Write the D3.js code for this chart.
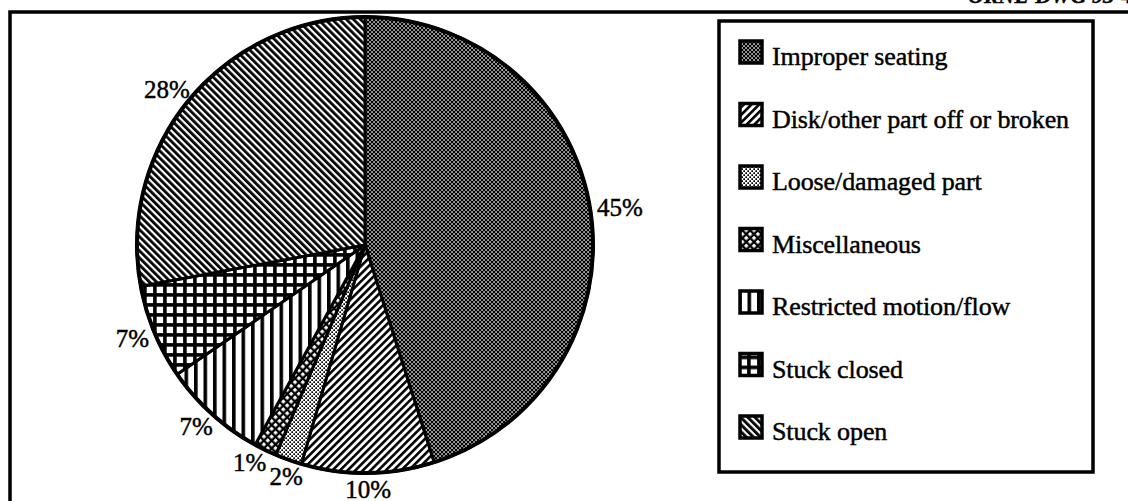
<!DOCTYPE html>
<html>
<head>
<meta charset="utf-8">
<script src="https://cdn.jsdelivr.net/npm/d3@7"></script>
<style>
  body { margin: 0; background: #fff; }
  svg { display: block; }
  text { font-family: "Liberation Serif", "Times New Roman", serif; fill: #000; stroke: #000; stroke-width: 0.45px; }
</style>
</head>
<body>
<div id="chart"></div>
<script>
// Failure causes (share of events, %)
var categories = [
  'Improper seating',
  'Disk/other part off or broken',
  'Loose/damaged part',
  'Miscellaneous',
  'Restricted motion/flow',
  'Stuck closed',
  'Stuck open'
];
var shares = [45.1, 9.4, 1.9, 1.6, 7.4, 6.7, 27.9];
var shareLabels = ['45%', '10%', '2%', '1%', '7%', '7%', '28%'];
var patternIds = ['pSeat', 'pDisk', 'pLoose', 'pMisc', 'pRestr', 'pClosed', 'pOpen'];

var svgWidth = 1128;
var svgHeight = 501;

var svg = d3.select('#chart')
  .append('svg')
  .attr('width', svgWidth)
  .attr('height', svgHeight);

// ---- hatch patterns
var defs = svg.append('defs');

function tile(id, size, transform) {
  var p = defs.append('pattern')
    .attr('id', id)
    .attr('patternUnits', 'userSpaceOnUse')
    .attr('width', size)
    .attr('height', size);
  if (transform) p.attr('patternTransform', transform);
  return p;
}

// dark stipple
var p = tile('pSeat', 4);
p.append('rect').attr('width', 4).attr('height', 4).attr('fill', '#000');
p.append('rect').attr('x', 0.3).attr('y', 0.3).attr('width', 1.5).attr('height', 1.5).attr('fill', '#fff');
p.append('rect').attr('x', 2.3).attr('y', 2.3).attr('width', 1.5).attr('height', 1.5).attr('fill', '#fff');

// "/" lines
p = tile('pDisk', 5.4, 'rotate(45)');
p.append('rect').attr('width', 5.4).attr('height', 5.4).attr('fill', '#fff');
p.append('rect').attr('width', 2.6).attr('height', 5.4).attr('fill', '#000');

// light stipple
p = tile('pLoose', 4);
p.append('rect').attr('width', 4).attr('height', 4).attr('fill', '#fff');
p.append('rect').attr('x', 0.3).attr('y', 0.3).attr('width', 1.7).attr('height', 1.7).attr('fill', '#000');
p.append('rect').attr('x', 2.3).attr('y', 2.3).attr('width', 1.7).attr('height', 1.7).attr('fill', '#000');

// diagonal crosshatch
p = tile('pMisc', 5.5, 'rotate(45)');
p.append('rect').attr('width', 5.5).attr('height', 5.5).attr('fill', '#000');
p.append('rect').attr('x', 1.9).attr('y', 1.9).attr('width', 3.2).attr('height', 3.2).attr('fill', '#fff');

// vertical lines
p = tile('pRestr', 9.5);
p.append('rect').attr('width', 9.5).attr('height', 9.5).attr('fill', '#fff');
p.append('rect').attr('width', 3.6).attr('height', 9.5).attr('fill', '#000');

// square grid
p = tile('pClosed', 10);
p.append('rect').attr('width', 10).attr('height', 10).attr('fill', '#000');
p.append('rect').attr('x', 1.7).attr('y', 1.7).attr('width', 6.4).attr('height', 6.4).attr('fill', '#fff');

// "\" lines
p = tile('pOpen', 5, 'rotate(-45)');
p.append('rect').attr('width', 5).attr('height', 5).attr('fill', '#fff');
p.append('rect').attr('width', 2.8).attr('height', 5).attr('fill', '#000');

// ---- outer frame and drawing number
svg.append('text')
  .attr('x', 968)
  .attr('y', 3)
  .style('font-size', '22px')
  .style('font-style', 'italic')
  .style('font-weight', 'bold')
  .text('ORNL-DWG 93-4229');

svg.append('path')
  .attr('d', 'M10,' + svgHeight + 'V12H' + svgWidth)
  .attr('fill', 'none')
  .attr('stroke', '#000')
  .attr('stroke-width', 3.5);

// ---- pie
var cx = 365, cy = 245, radius = 228;

var pie = d3.pie().sort(null).value(function (d) { return d; });
var arcs = pie(shares);

var arc = d3.arc().innerRadius(0).outerRadius(radius);

var pieGroup = svg.append('g')
  .attr('transform', 'translate(' + cx + ',' + cy + ')');

pieGroup.selectAll('path.slice')
  .data(arcs)
  .enter()
  .append('path')
  .attr('class', 'slice')
  .attr('d', arc)
  .attr('fill', function (d, i) { return 'url(#' + patternIds[i] + ')'; })
  .attr('stroke', '#000')
  .attr('stroke-width', 3)
  .attr('stroke-linejoin', 'round');

pieGroup.append('circle')
  .attr('r', radius)
  .attr('fill', 'none')
  .attr('stroke', '#000')
  .attr('stroke-width', 4);

// label angles: slice mid-angles, spread apart where they crowd
var labelAngles = arcs.map(function (d) { return (d.startAngle + d.endAngle) / 2; });
var minGap = 9 * Math.PI / 180;
for (var k = 0; k < 20; k++) {
  for (var i = 0; i < labelAngles.length - 1; i++) {
    var gap = labelAngles[i + 1] - labelAngles[i];
    if (gap < minGap) {
      var push = (minGap - gap) / 2;
      labelAngles[i] -= push;
      labelAngles[i + 1] += push;
    }
  }
}

var labelR = radius + 7;
var fontPx = 25;

var pct = pieGroup.selectAll('text.pct')
  .data(arcs)
  .enter()
  .append('text')
  .attr('class', 'pct')
  .attr('text-anchor', 'middle')
  .attr('dy', '0.35em')
  .style('font-size', fontPx + 'px')
  .text(function (d, i) { return shareLabels[i]; });

// push each label box outwards so its near edge sits just off the rim
pct.attr('transform', function (d, i) {
  var a = labelAngles[i];
  var w = this.getComputedTextLength();
  var h = fontPx * 0.72;
  var x = labelR * Math.sin(a) + Math.sin(a) * w / 2;
  var y = -labelR * Math.cos(a) - Math.cos(a) * h / 2;
  return 'translate(' + x + ',' + y + ')';
});

// ---- legend
var legend = svg.append('g').attr('transform', 'translate(719, 21)');

legend.append('rect')
  .attr('width', 374)
  .attr('height', 451)
  .attr('fill', '#fff')
  .attr('stroke', '#000')
  .attr('stroke-width', 3.5);

var rowY = d3.scaleLinear().domain([0, categories.length - 1]).range([44, 419]);

var rows = legend.selectAll('g.row')
  .data(categories)
  .enter()
  .append('g')
  .attr('class', 'row')
  .attr('transform', function (d, i) { return 'translate(0,' + rowY(i) + ')'; });

rows.append('rect')
  .attr('x', 21)
  .attr('y', -24)
  .attr('width', 22)
  .attr('height', 22)
  .attr('fill', function (d, i) { return 'url(#' + patternIds[i] + ')'; })
  .attr('stroke', '#000')
  .attr('stroke-width', 3.5);

rows.append('text')
  .attr('x', 53)
  .attr('y', 0)
  .style('font-size', '26px')
  .style('letter-spacing', '-0.1px')
  .text(function (d) { return d; });
</script>
</body>
</html>
